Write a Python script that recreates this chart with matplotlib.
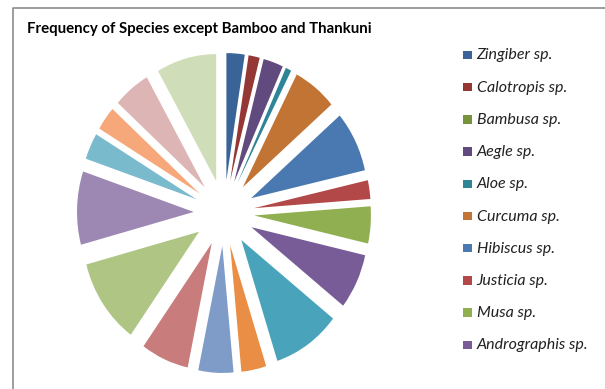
import matplotlib
matplotlib.use("Agg")
import matplotlib.pyplot as plt
from matplotlib.patches import Rectangle
from matplotlib.lines import Line2D

# ---- data (angular shares) ----
species = ["Zingiber sp.", "Calotropis sp.", "Bambusa sp.", "Aegle sp.", "Aloe sp.",
           "Curcuma sp.", "Hibiscus sp.", "Justicia sp.", "Musa sp.", "Andrographis sp.",
           "Species 11", "Species 12", "Species 13", "Species 14", "Species 15",
           "Species 16", "Species 17", "Species 18", "Species 19", "Species 20"]
frequency = [9.1, 5.6, 0.0, 10.0, 2.9, 22.0, 28.0, 8.6, 17.0, 25.5,
             34.0, 12.5, 17.5, 24.0, 39.4, 33.7, 12.2, 11.0, 18.5, 30.0]
colors = ["#3A6497", "#953835", "#77933C", "#614A7D", "#2E8597",
          "#C27434", "#4A78B0", "#B24847", "#90AF50", "#785C98",
          "#48A3BB", "#E98E44", "#7F9BC8", "#C87C7C", "#AEC584",
          "#9D88B4", "#7ABACD", "#F6A87A", "#DDB5B5", "#CFDDB8"]
legend_count = 10
title = "Frequency of Species except Bamboo and Thankuni"

W, H = 605, 389
fig = plt.figure(figsize=(W / 100, H / 100), dpi=100)
fig.patch.set_facecolor("white")

def fx(px):
    return px / W

def fy(py):
    return 1 - py / H

# pie axes
expl = 0.26
left, right, top, bottom = 77, 371, 53, 373
ax = fig.add_axes([fx(left), fy(bottom), (right - left) / W, (bottom - top) / H])
wedges, _ = ax.pie(frequency, colors=colors, startangle=90, counterclock=False,
                   explode=[expl] * len(frequency), radius=1.0,
                   wedgeprops=dict(linewidth=0))
ax.set_aspect("auto")
ax.set_xlim(-(1 + expl), 1 + expl)
ax.set_ylim(-(1 + expl), 1 + expl)
ax.axis("off")

# border (chart area, partially visible)
fig.add_artist(Line2D([fx(13.3), fx(13.3), fx(W)], [fy(H), fy(7.5), fy(7.5)],
                      transform=fig.transFigure, color="#8C8C8C", lw=1.2))

renderer = fig.canvas.get_renderer()

def fit_size(txt, target, **kw):
    t = fig.text(0, 0, txt, fontsize=10, **kw)
    w = t.get_window_extent(renderer=renderer).width
    t.remove()
    return 10 * target / w

tkw = dict(family="Lato", fontweight="bold")
ts = fit_size(title, 346, **tkw)
fig.text(fx(26.7), fy(33.3), title, fontsize=ts, color="black", va="baseline", ha="left", **tkw)

lkw = dict(family="Lato", style="italic")
ls = fit_size("Andrographis sp.", 111.6, **lkw)
y0, dy = 55.0, 32.2
sq = 8.4
for i in range(legend_count):
    yc = y0 + dy * i
    fig.add_artist(Rectangle((fx(463.3), fy(yc + sq / 2)), sq / W, sq / H,
                             transform=fig.transFigure, facecolor=wedges[i].get_facecolor(),
                             edgecolor="none"))
    fig.text(fx(476.7), fy(yc + 0.5), species[i], fontsize=ls, color="#222222",
             va="center", ha="left", **lkw)

fig.savefig("out.png", dpi=100)
